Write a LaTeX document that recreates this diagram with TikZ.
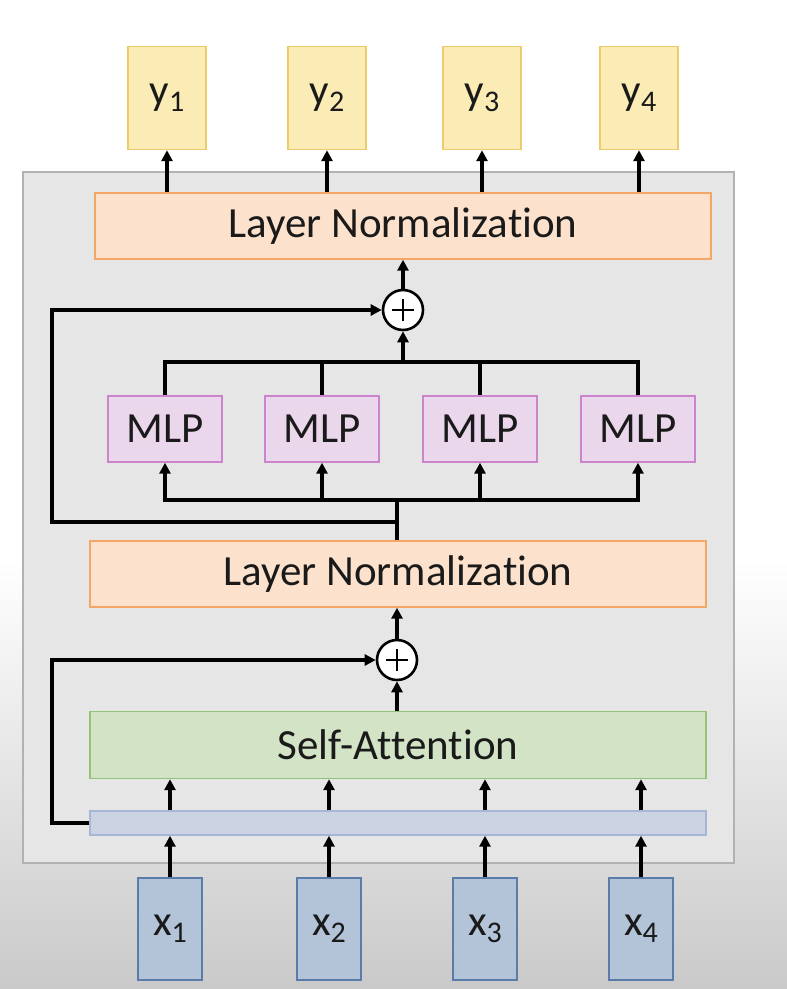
\documentclass[tikz,border=0pt]{standalone}
\usepackage{fontspec}
\setmainfont{Carlito}[Ligatures=NoCommon]
\usetikzlibrary{arrows.meta}

\definecolor{yfill}{HTML}{FBEBB5}
\definecolor{yline}{HTML}{EDCB6A}
\definecolor{xfill}{HTML}{B3C3D8}
\definecolor{xline}{HTML}{5B7BA8}
\definecolor{lnfill}{HTML}{FCE2CC}
\definecolor{lnline}{HTML}{F2A766}
\definecolor{mlpfill}{HTML}{EBD7EC}
\definecolor{mlpline}{HTML}{CC85CC}
\definecolor{attnfill}{HTML}{D3E4C6}
\definecolor{attnline}{HTML}{93C278}
\definecolor{embfill}{HTML}{CBD3E2}
\definecolor{embline}{HTML}{A5B6D6}
\definecolor{panelfill}{HTML}{E6E6E6}
\definecolor{panelline}{HTML}{B2B2B2}
\definecolor{ink}{HTML}{1A1A1A}

% indexed label, subscript set large and low
\newcommand{\idx}[2]{#1\raisebox{-7pt}{\fontsize{30}{30}\selectfont #2}}

\begin{document}
\begin{tikzpicture}[x=1pt, y=-1pt,
    box/.style={draw, line width=1.4pt, inner sep=0pt, text=ink,
        font=\fontsize{43}{48}\selectfont},
    outbox/.style={box, fill=yfill, draw=yline, minimum width=78pt, minimum height=103pt},
    inbox/.style={box, fill=xfill, draw=xline, minimum width=64pt, minimum height=102pt},
    normbox/.style={box, fill=lnfill, draw=lnline, minimum width=616pt, minimum height=66pt},
    mlpbox/.style={box, fill=mlpfill, draw=mlpline, minimum width=114pt, minimum height=66pt},
    attnbox/.style={box, fill=attnfill, draw=attnline, minimum width=616pt, minimum height=67pt},
    embbox/.style={box, fill=embfill, draw=embline, minimum width=616pt, minimum height=24pt},
    sumnode/.style={circle, draw, fill=white, line width=2.6pt, minimum size=40pt, inner sep=0pt,
        path picture={
            \draw[line width=2.8pt] ([xshift=-11pt]path picture bounding box.center)
                -- ([xshift=11pt]path picture bounding box.center);
            \draw[line width=2.8pt] ([yshift=-11pt]path picture bounding box.center)
                -- ([yshift=11pt]path picture bounding box.center);}},
    wire/.style={line width=3.3pt},
    arrow/.style={wire, -{Triangle[length=11pt,width=11pt]}}
]
    % background and block panel
    \useasboundingbox (0,0) rectangle (787,989);
    \fill[white] (0,0) rectangle (787,989);
    \shade[top color=white, bottom color=black!21] (0,560) rectangle (787,989);
    \filldraw[fill=panelfill, draw=panelline, line width=1.5pt]
        (23,172) rectangle (734,863);

    % outputs
    \node[outbox] (y1) at (167,98) {\idx{y}{1}};
    \node[outbox] (y2) at (327,98) {\idx{y}{2}};
    \node[outbox] (y3) at (482,98) {\idx{y}{3}};
    \node[outbox] (y4) at (639,98) {\idx{y}{4}};

    \node[normbox] (lnTop) at (403,226) {Layer Normalization};
    \node[sumnode] (plusTop) at (403,310) {};

    % MLPs
    \node[mlpbox] (mlp1) at (165,429) {MLP};
    \node[mlpbox] (mlp2) at (322,429) {MLP};
    \node[mlpbox] (mlp3) at (480,429) {MLP};
    \node[mlpbox] (mlp4) at (638,429) {MLP};

    \node[normbox] (lnBot) at (398,574) {Layer Normalization};
    \node[sumnode] (plusBot) at (397,660) {};
    \node[attnbox] (attn) at (398,745) {Self-Attention};
    \node[embbox] (embed) at (398,823) {};

    % inputs
    \node[inbox] (x1) at (170,929) {\idx{x}{1}};
    \node[inbox] (x2) at (329,929) {\idx{x}{2}};
    \node[inbox] (x3) at (485,929) {\idx{x}{3}};
    \node[inbox] (x4) at (641,929) {\idx{x}{4}};

    \coordinate (busHi) at (403,362);
    \coordinate (busLo) at (397,500);
    \coordinate (tap) at (397,522);
    \coordinate (skipTop) at (52,522);
    \coordinate (skipBot) at (52,823);

    % connectors
    \foreach \i in {1,...,4} {
        \draw[arrow] (x\i.north) -- (embed.south -| x\i);
        \draw[arrow] (embed.north -| x\i) -- (attn.south -| x\i);
        \draw[arrow] (busLo) -| (mlp\i.south);
        \draw[wire] (mlp\i.north) |- (busHi);
        \draw[arrow] (lnTop.north -| y\i) -- (y\i.south);
    }
    \draw[arrow] (attn.north -| plusBot) -- (plusBot);
    \draw[arrow] (plusBot) -- (lnBot.south -| plusBot);
    \draw[arrow] (embed.west) -- (skipBot) |- (plusBot);
    \draw[wire] (lnBot.north -| busLo) -- (busLo);
    \draw[arrow] (tap) -- (skipTop) |- (plusTop);
    \draw[arrow] (busHi) -- (plusTop);
    \draw[arrow] (plusTop) -- (lnTop.south -| plusTop);
\end{tikzpicture}
\end{document}
